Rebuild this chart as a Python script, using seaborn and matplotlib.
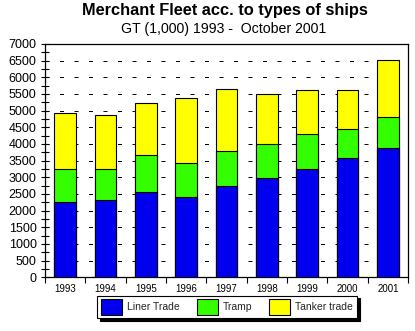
import matplotlib
matplotlib.use("Agg")
import matplotlib.pyplot as plt
import seaborn as sns
import numpy as np
import pandas as pd
from matplotlib.ticker import MultipleLocator, FixedLocator
from matplotlib.patches import Patch

years = ["1993", "1994", "1995", "1996", "1997", "1998", "1999", "2000", "2001"]
liner_trade = [2250, 2320, 2550, 2400, 2730, 2980, 3260, 3580, 3870]
tramp = [1000, 930, 1110, 1030, 1060, 1010, 1030, 860, 930]
tanker_trade = [1690, 1630, 1560, 1950, 1870, 1510, 1320, 1170, 1710]
series_names = ["Liner Trade", "Tramp", "Tanker trade"]
colors = ["#0000EE", "#33FF00", "#FFFF00"]

sns.set_theme(style="white")
plt.rcParams['font.family'] = ['Liberation Sans', 'DejaVu Sans']

fig = plt.figure(figsize=(4.15, 3.31), dpi=100)
W, H = 415, 331
ax = fig.add_axes([45 / W, 1 - 277.3 / H, 363 / W, 233.3 / H])

cum1 = np.array(liner_trade)
cum2 = cum1 + np.array(tramp)
cum3 = cum2 + np.array(tanker_trade)
df = pd.DataFrame({"year": years, "c1": cum1, "c2": cum2, "c3": cum3})

for col, c in zip(["c3", "c2", "c1"], colors[::-1]):
    sns.barplot(data=df, x="year", y=col, color=c, width=0.545,
                edgecolor="black", linewidth=0.8, saturation=1, ax=ax, zorder=3)

ax.set_xlim(-0.5, 8.5)
ax.set_ylim(0, 7000)
ax.set_xlabel("")
ax.set_ylabel("")

# gridlines
for v in range(500, 7000, 500):
    ax.axhline(v, color="black", lw=0.72, ls=(0, (4, 10.5)), zorder=1)

for s in ax.spines.values():
    s.set_visible(True)
    s.set_color("black")
    s.set_linewidth(0.9)

ax.yaxis.set_major_locator(MultipleLocator(500))
ax.yaxis.set_minor_locator(MultipleLocator(250))
ax.tick_params(axis="y", which="both", direction="inout", length=6, width=0.8,
               color="black", left=True, right=False, labelsize=9, pad=3,
               labelcolor="black")
ax.xaxis.set_minor_locator(FixedLocator(np.arange(-0.5, 9, 1.0)))
ax.tick_params(axis="x", which="major", length=0, labelsize=7, pad=4.5, labelcolor="black")
ax.tick_params(axis="x", which="minor", direction="out", length=4.5, width=0.8,
               color="black", bottom=True)

fig.text(225 / W, 1 - 11 / H, "Merchant Fleet acc. to types of ships", ha="center",
         va="center", fontsize=11.8, fontweight="bold", color="black")
fig.text(224 / W, 1 - 29 / H, "GT (1,000) 1993 -  October 2001", ha="center",
         va="center", fontsize=10.2, color="black")

handles = [Patch(facecolor=c, edgecolor="black", linewidth=0.8) for c in colors]
leg = fig.legend(handles, series_names, loc="center", ncol=3,
                 bbox_to_anchor=(227 / W, 1 - 307 / H), fontsize=7.5,
                 frameon=True, fancybox=False, shadow={"color": "black", "alpha": 1},
                 edgecolor="black", handlelength=2.0, handleheight=1.9,
                 columnspacing=1.65, handletextpad=0.5, borderpad=0.35,
                 borderaxespad=0)
leg.get_frame().set_linewidth(0.8)

fig.savefig("out.png", dpi=100)
